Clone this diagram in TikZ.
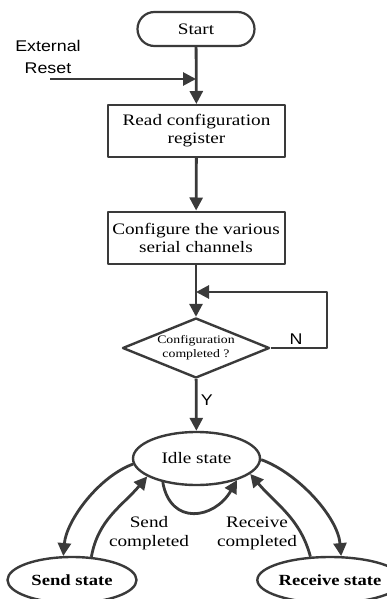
\documentclass[tikz,border=0pt]{standalone}
\usepackage{fontspec}
\setmainfont[FakeStretch=1.2]{Liberation Serif}
\newfontfamily\labelfont[FakeStretch=1.15]{Liberation Sans}
\usetikzlibrary{shapes.geometric,arrows.meta}
\definecolor{linegray}{HTML}{3A3A3A}
\tikzset{
	process/.style={draw=linegray, line width=2pt, rectangle, minimum width=177pt, minimum height=52pt, align=center, font=\fontsize{16}{18}\selectfont},
	state/.style={draw=linegray, line width=2.4pt, ellipse, inner sep=0pt},
	flow/.style={->, draw=linegray, line width=2.8pt},
	sans/.style={font=\labelfont\fontsize{15.5}{22}\selectfont, text=black}
}
\begin{document}
\begin{tikzpicture}[x=1pt, y=1pt, line join=round, >={Triangle[length=13pt,width=13pt]}]
	\useasboundingbox (0,0) rectangle (387,-599);
	% flow chart
	\node[draw=linegray, line width=2.2pt, rectangle, rounded corners=17pt, minimum width=117pt, minimum height=34pt, font=\fontsize{16}{18}\selectfont] (start) at (196,-29) {Start};
	\node[process] (read) at (196.5,-131) {Read configuration\\register};
	\node[process] (conf) at (196,-237.5) {Configure the various\\serial channels};
	\node[draw=linegray, line width=2.4pt, diamond, aspect=2.45, minimum width=147pt, minimum height=60pt, inner sep=0pt, align=center, font=\fontsize{11.5}{14}\selectfont] (check) at (196,-348) {Configuration\\completed ?};
	\node[sans, align=center] (ext) at (48,-57) {External\\Reset};
	\coordinate (rst) at (50,-79);
	\coordinate (rstend) at (196,-79);
	\coordinate (join) at (196,-292);
	\draw[flow] (start) -- (read);
	\draw[flow] (rst) -- (rstend);
	\draw[flow] (read) -- (conf);
	\draw[flow] (conf) -- (check);
	\draw[flow] (check.east) -- (327,-348) -- (327,-292) -- (join);
	\node[sans] (no) at (296,-339) {N};
	% states
	\node[state, minimum width=127pt, minimum height=53pt, font=\fontsize{16}{18}\selectfont] (idle) at (196.5,-458.5) {Idle state};
	\node[state, minimum width=129pt, minimum height=46pt, font=\bfseries\fontsize{15.5}{18}\selectfont] (send) at (72,-580) {Send state};
	\node[state, minimum width=126pt, minimum height=46pt, font=\bfseries\fontsize{15.5}{18}\selectfont] (recv) at (330,-580) {Receive state};
	\draw[flow] (check) -- (idle) node[pos=0.4, right, sans] (yes) {Y};
	\draw[flow] (idle.185) to[out=200,in=85,looseness=0.8] (send.110);
	\draw[flow] (send.50) to[out=80,in=230] (idle.200);
	\draw[flow] (idle.215) .. controls +(-80:45) and +(-120:45) .. (idle.332);
	\draw[flow] (recv.130) to[out=105,in=-50] (idle.344);
	\draw[flow] (idle.359) to[out=-20,in=95,looseness=0.8] (recv.65);
	\path
	node[align=center, font=\fontsize{16}{19}\selectfont] (sendlbl) at (149,-533) {Send\\completed}
	node[align=center, font=\fontsize{16}{19}\selectfont] (recvlbl) at (257,-533) {Receive\\completed};
\end{tikzpicture}
\end{document}
